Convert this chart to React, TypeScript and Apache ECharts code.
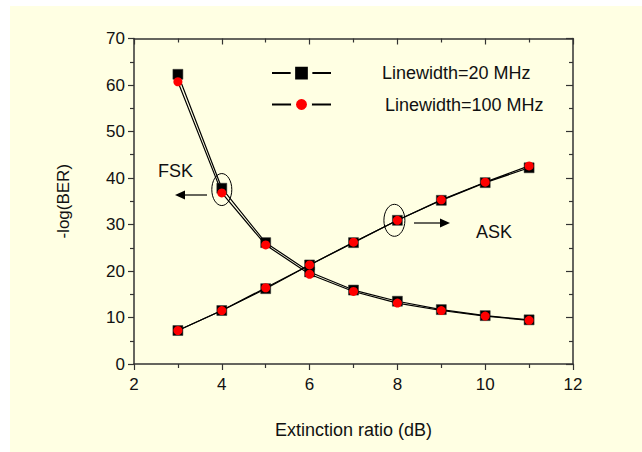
import React, { useEffect, useRef } from "react";
import * as echarts from "echarts";

// Extinction ratio (dB)
const extinction = [3, 4, 5, 6, 7, 8, 9, 10, 11];

// -log(BER) for ASK
const ask20 = [7.2, 11.5, 16.2, 21.3, 26.1, 30.9, 35.2, 39.0, 42.2];
const ask100 = [7.2, 11.5, 16.4, 21.3, 26.2, 30.9, 35.3, 39.1, 42.6];

// -log(BER) for FSK
const fsk20 = [62.3, 37.8, 26.1, 19.8, 15.9, 13.5, 11.7, 10.4, 9.5];
const fsk100 = [60.7, 36.8, 25.6, 19.3, 15.6, 13.1, 11.5, 10.3, 9.4];

const LABEL_20 = "Linewidth=20 MHz";
const LABEL_100 = "Linewidth=100 MHz";

const FONT = "'Liberation Sans', Arial, sans-serif";
const INK = "#111";
const AXIS = "#333";
const PAPER = "#FFFFE3";

const pairs = (ys: number[]) => extinction.map((x, i) => [x, ys[i]]);

function squareSeries(name: string, ys: number[]) {
  return {
    type: "line",
    name,
    data: pairs(ys),
    symbol: "rect",
    symbolSize: 10,
    z: 3,
    lineStyle: { color: "#000", width: 1.2 },
    itemStyle: { color: "#000", borderColor: "#333", borderWidth: 0.5 },
  };
}

function circleSeries(name: string, ys: number[]) {
  return {
    type: "line",
    name,
    data: pairs(ys),
    symbol: "circle",
    symbolSize: 9,
    z: 4,
    lineStyle: { color: "#000", width: 1.2 },
    itemStyle: { color: "#ff0000" },
  };
}

function arrow(x1: number, x2: number, y: number) {
  const dir = x2 > x1 ? 1 : -1;
  const headBase = x2 - dir * 10;
  return [
    {
      type: "line",
      shape: { x1, y1: y, x2: headBase, y2: y },
      style: { stroke: "#000", lineWidth: 1.2 },
    },
    {
      type: "polygon",
      shape: { points: [[x2, y], [headBase, y - 4.5], [headBase, y + 4.5]] },
      style: { fill: "#000" },
    },
  ];
}

// Legend entry: the paper-coloured border around the marker leaves a gap in the line
function legendEntry(
  name: string,
  centerY: number,
  itemHeight: number,
  gapBorder: number,
  textPad: number
) {
  return {
    data: [name],
    left: 271,
    top: centerY - itemHeight / 2,
    padding: 0,
    itemWidth: 59,
    itemHeight,
    itemStyle: { borderColor: PAPER, borderWidth: gapBorder },
    textStyle: { fontSize: 18, color: INK, padding: [0, 0, 0, textPad], fontFamily: FONT },
    selectedMode: false,
  };
}

export default function App() {
  const ref = useRef<HTMLDivElement>(null);

  useEffect(() => {
    if (!ref.current) return;
    const chart = echarts.init(ref.current, null, { renderer: "svg" });

    const xBase = {
      type: "value",
      min: 2,
      max: 12,
      interval: 2,
      splitLine: { show: false },
      axisLine: { show: true, onZero: false, lineStyle: { color: AXIS, width: 1.5 } },
      minorTick: { show: true, splitNumber: 2, length: 4, lineStyle: { color: AXIS, width: 1.2 } },
    };
    const yBase = {
      type: "value",
      min: 0,
      max: 70,
      interval: 10,
      splitLine: { show: false },
      axisLine: { show: true, onZero: false, lineStyle: { color: AXIS, width: 1.5 } },
      minorTick: { show: true, splitNumber: 2, length: 4, lineStyle: { color: AXIS, width: 1.2 } },
    };

    chart.setOption({
      animation: false,
      backgroundColor: "transparent",
      textStyle: { fontFamily: FONT },
      grid: { left: 134, right: 69, top: 38.5, bottom: 88, containLabel: false },
      xAxis: [
        {
          ...xBase,
          position: "bottom",
          name: "Extinction ratio (dB)",
          nameLocation: "middle",
          nameGap: 57,
          nameTextStyle: { fontSize: 18, color: INK, fontFamily: FONT },
          axisTick: { show: true, inside: false, length: 6, lineStyle: { color: AXIS, width: 1.2 } },
          axisLabel: { fontSize: 17, color: INK, margin: 12, fontFamily: FONT },
        },
        {
          ...xBase,
          position: "top",
          axisTick: { show: true, inside: true, length: 6, lineStyle: { color: AXIS, width: 1.2 } },
          axisLabel: { show: false },
        },
      ],
      yAxis: [
        {
          ...yBase,
          position: "left",
          name: "-log(BER)",
          nameLocation: "middle",
          nameGap: 62,
          nameTextStyle: { fontSize: 17, color: INK, fontFamily: FONT },
          axisTick: { show: true, inside: false, length: 6, lineStyle: { color: AXIS, width: 1.2 } },
          axisLabel: { fontSize: 17, color: INK, margin: 9, fontFamily: FONT },
        },
        {
          ...yBase,
          position: "right",
          axisTick: { show: true, inside: true, length: 7, lineStyle: { color: AXIS, width: 1.2 } },
          axisLabel: { show: false },
        },
      ],
      legend: [
        legendEntry(LABEL_20, 73, 21.5, 4.5, 46),
        legendEntry(LABEL_100, 104, 20, 5, 49),
      ],
      series: [
        squareSeries(LABEL_20, ask20),
        circleSeries(LABEL_100, ask100),
        squareSeries(LABEL_20, fsk20),
        circleSeries(LABEL_100, fsk100),
      ],
    });

    // Annotations: highlight one point of each curve family and point at its axis
    const fskPt = chart.convertToPixel({ xAxisIndex: 0, yAxisIndex: 0 }, [4, (fsk20[1] + fsk100[1]) / 2]);
    const askPt = chart.convertToPixel({ xAxisIndex: 0, yAxisIndex: 0 }, [8, ask20[5]]);

    chart.setOption({
      graphic: [
        {
          type: "ellipse",
          shape: { cx: fskPt[0], cy: fskPt[1] - 1, rx: 10, ry: 16 },
          style: { fill: "none", stroke: "#000", lineWidth: 1 },
          z: 10,
        },
        {
          type: "ellipse",
          shape: { cx: askPt[0] - 3, cy: askPt[1], rx: 10.5, ry: 16 },
          style: { fill: "none", stroke: "#000", lineWidth: 1 },
          z: 10,
        },
        ...arrow(207, 175, 195),
        ...arrow(414, 450, 223),
        {
          type: "text",
          left: 158,
          top: 162,
          style: { text: "FSK", fontSize: 18, fill: INK, fontFamily: FONT },
        },
        {
          type: "text",
          left: 476,
          top: 223,
          style: { text: "ASK", fontSize: 18, fill: INK, fontFamily: FONT },
        },
      ],
    });

    return () => chart.dispose();
  }, []);

  return (
    <div style={{ position: "fixed", left: 0, top: 0, width: 642, height: 452, background: "#fff" }}>
      <div style={{ position: "absolute", left: 10, top: 6, right: 0, bottom: 0, background: PAPER }} />
      <div ref={ref} style={{ position: "absolute", left: 0, top: 0, width: 642, height: 452 }} />
    </div>
  );
}
